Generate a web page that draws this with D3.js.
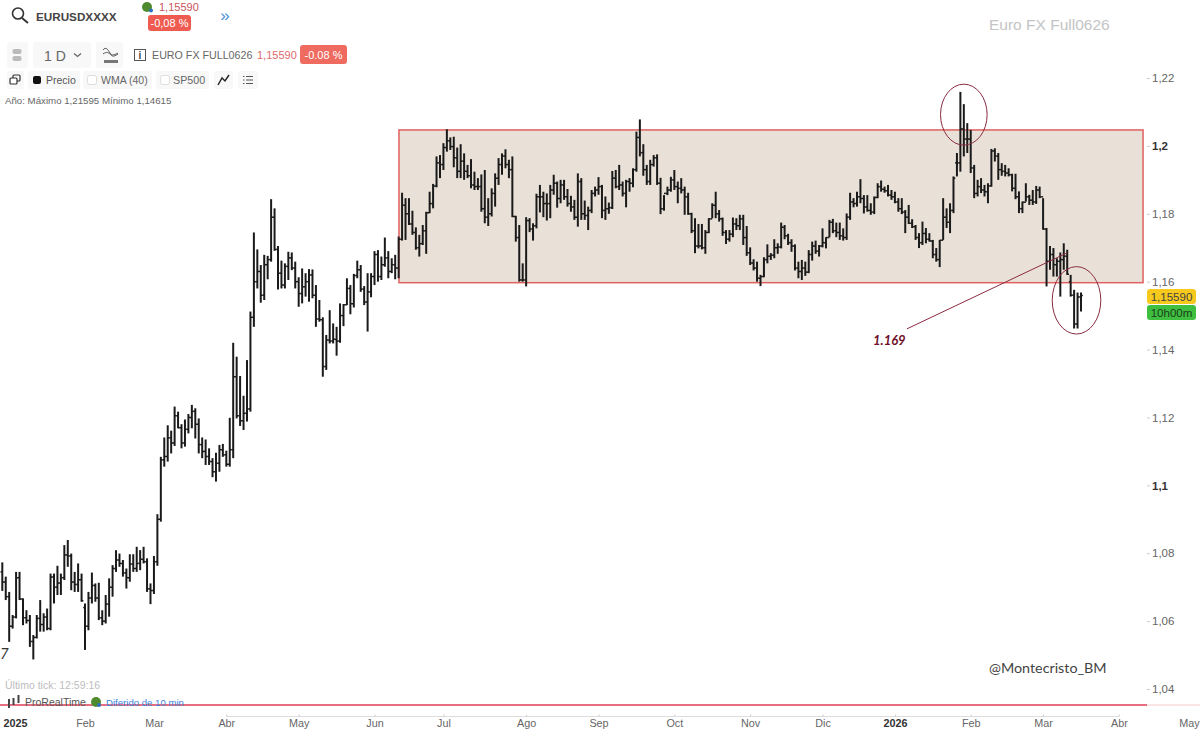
<!DOCTYPE html>
<html>
<head>
<meta charset="utf-8">
<title>EURUSD</title>
<script src="https://cdn.jsdelivr.net/npm/d3@7"></script>
<style>
body { margin: 0; background: #fff; }
svg { display: block; font-family: "Liberation Sans", Arial, sans-serif; }
</style>
</head>
<body>
<svg width="1200" height="733"></svg>
<script>
// daily bars
var highs = [
1.0773,1.0731,1.0686,1.0618,1.0745,1.0745,1.0667,1.0632,1.0618,1.0559,
1.0618,1.0662,1.0623,1.0637,1.0740,1.0740,1.0763,1.0740,1.0824,1.0839,
1.0799,1.0745,1.0770,1.0740,1.0652,1.0686,1.0743,1.0711,1.0713,1.0632,
1.0677,1.0726,1.0765,1.0809,1.0799,1.0780,1.0755,1.0797,1.0797,1.0819,
1.0809,1.0819,1.0785,1.0711,1.0792,1.0915,1.1084,1.1141,1.1177,1.1161,
1.1232,1.1217,1.1180,1.1194,1.1210,1.1237,1.1227,1.1197,1.1141,1.1135,
1.1109,1.1080,1.1096,1.1119,1.1122,1.1102,1.1199,1.1420,1.1379,1.1322,
1.1264,1.1369,1.1512,1.1745,1.1695,1.1649,1.1679,1.1676,1.1843,1.1816,
1.1705,1.1662,1.1654,1.1688,1.1686,1.1659,1.1613,1.1639,1.1625,1.1637,
1.1636,1.1590,1.1546,1.1495,1.1443,1.1516,1.1477,1.1467,1.1536,1.1534,
1.1610,1.1590,1.1623,1.1662,1.1649,1.1587,1.1625,1.1625,1.1690,1.1693,
1.1674,1.1730,1.1690,1.1669,1.1679,1.1733,1.1862,1.1846,1.1846,1.1809,
1.1760,1.1738,1.1767,1.1806,1.1865,1.1888,1.1969,1.1973,1.2008,1.2049,
1.2025,1.2027,1.1995,1.2005,1.1978,1.1944,1.1961,1.1924,1.1905,1.1916,
1.1929,1.1846,1.1875,1.1919,1.1964,1.1978,1.1990,1.1959,1.1969,1.1794,
1.1767,1.1654,1.1790,1.1787,1.1772,1.1859,1.1885,1.1865,1.1860,1.1885,
1.1915,1.1895,1.1900,1.1900,1.1873,1.1853,1.1841,1.1919,1.1905,1.1839,
1.1821,1.1870,1.1880,1.1908,1.1885,1.1851,1.1833,1.1926,1.1929,1.1944,
1.1895,1.1900,1.1905,1.1934,1.2042,1.2078,1.2005,1.1944,1.1959,1.1973,
1.1975,1.1906,1.1855,1.1880,1.1909,1.1929,1.1895,1.1905,1.1880,1.1862,
1.1803,1.1787,1.1770,1.1770,1.1752,1.1787,1.1831,1.1865,1.1811,1.1789,
1.1752,1.1752,1.1789,1.1787,1.1797,1.1797,1.1764,1.1701,1.1666,1.1659,
1.1620,1.1672,1.1710,1.1684,1.1725,1.1713,1.1774,1.1767,1.1741,1.1725,
1.1710,1.1659,1.1664,1.1659,1.1693,1.1718,1.1721,1.1708,1.1757,1.1731,
1.1782,1.1785,1.1774,1.1774,1.1757,1.1801,1.1862,1.1846,1.1865,1.1902,
1.1855,1.1855,1.1831,1.1851,1.1890,1.1898,1.1880,1.1885,1.1870,1.1865,
1.1846,1.1846,1.1811,1.1826,1.1784,1.1767,1.1743,1.1777,1.1758,1.1743,
1.1723,1.1699,1.1723,1.1846,1.1816,1.1831,1.1910,1.1979,1.2159,1.2123,
1.2067,1.2047,1.1944,1.1900,1.1905,1.1885,1.1890,1.1991,1.1993,1.1979,
1.1949,1.1944,1.1934,1.1918,1.1918,1.1866,1.1836,1.1890,1.1856,1.1870,
1.1882,1.1880,1.1846,1.1758,1.1705,1.1699,1.1669,1.1686,1.1713,1.1694,
1.1620,1.1576,1.1568,1.1568];

var lows = [
1.0689,1.0662,1.0539,1.0578,1.0608,1.0662,1.0588,1.0593,1.0524,1.0487,
1.0549,1.0569,1.0569,1.0573,1.0573,1.0652,1.0677,1.0677,1.0721,1.0760,
1.0691,1.0686,1.0686,1.0657,1.0515,1.0573,1.0652,1.0657,1.0603,1.0588,
1.0593,1.0613,1.0672,1.0745,1.0760,1.0731,1.0696,1.0716,1.0745,1.0745,
1.0750,1.0770,1.0686,1.0650,1.0680,1.0763,1.0893,1.1055,1.1070,1.1094,
1.1116,1.1168,1.1109,1.1114,1.1153,1.1168,1.1138,1.1094,1.1080,1.1060,
1.1060,1.1024,1.1011,1.1040,1.1084,1.1055,1.1055,1.1080,1.1197,1.1175,
1.1163,1.1188,1.1217,1.1467,1.1580,1.1538,1.1546,1.1607,1.1659,1.1691,
1.1577,1.1580,1.1580,1.1605,1.1634,1.1580,1.1526,1.1536,1.1556,1.1541,
1.1551,1.1467,1.1482,1.1320,1.1340,1.1418,1.1418,1.1382,1.1420,1.1469,
1.1531,1.1504,1.1524,1.1610,1.1570,1.1531,1.1453,1.1554,1.1590,1.1600,
1.1605,1.1644,1.1610,1.1625,1.1607,1.1610,1.1721,1.1723,1.1767,1.1738,
1.1694,1.1674,1.1708,1.1682,1.1802,1.1816,1.1878,1.1905,1.1929,1.1983,
1.1988,1.1937,1.1905,1.1905,1.1900,1.1905,1.1875,1.1870,1.1870,1.1806,
1.1772,1.1764,1.1792,1.1821,1.1885,1.1915,1.1934,1.1905,1.1790,1.1718,
1.1600,1.1600,1.1586,1.1746,1.1721,1.1757,1.1804,1.1790,1.1780,1.1787,
1.1856,1.1818,1.1831,1.1841,1.1821,1.1806,1.1782,1.1762,1.1782,1.1782,
1.1752,1.1802,1.1851,1.1856,1.1787,1.1782,1.1800,1.1814,1.1875,1.1870,
1.1851,1.1819,1.1865,1.1878,1.1924,1.1969,1.1912,1.1885,1.1885,1.1939,
1.1885,1.1799,1.1809,1.1855,1.1865,1.1870,1.1831,1.1860,1.1797,1.1797,
1.1743,1.1684,1.1698,1.1695,1.1682,1.1743,1.1787,1.1787,1.1777,1.1735,
1.1711,1.1718,1.1731,1.1752,1.1752,1.1708,1.1676,1.1649,1.1633,1.1600,
1.1587,1.1613,1.1654,1.1664,1.1669,1.1682,1.1698,1.1725,1.1708,1.1688,
1.1633,1.1610,1.1605,1.1617,1.1625,1.1662,1.1682,1.1674,1.1701,1.1698,
1.1731,1.1743,1.1731,1.1723,1.1721,1.1723,1.1782,1.1819,1.1821,1.1831,
1.1801,1.1806,1.1797,1.1799,1.1846,1.1865,1.1862,1.1851,1.1841,1.1831,
1.1806,1.1799,1.1743,1.1770,1.1758,1.1723,1.1699,1.1708,1.1713,1.1718,
1.1669,1.1659,1.1643,1.1723,1.1758,1.1743,1.1802,1.1910,1.1924,1.1969,
1.1979,1.1920,1.1846,1.1851,1.1861,1.1851,1.1831,1.1880,1.1954,1.1900,
1.1912,1.1910,1.1910,1.1866,1.1843,1.1802,1.1802,1.1836,1.1826,1.1826,
1.1829,1.1846,1.1753,1.1586,1.1635,1.1615,1.1615,1.1556,1.1635,1.1620,
1.1556,1.1462,1.1462,1.1512];

var closes = [
1.0715,1.0672,1.0585,1.0612,1.0728,1.0665,1.0610,1.0602,1.0540,1.0552,
1.0608,1.0590,1.0612,1.0578,1.0730,1.0700,1.0712,1.0728,1.0795,1.0792,
1.0715,1.0708,1.0722,1.0660,1.0585,1.0668,1.0705,1.0668,1.0610,1.0600,
1.0650,1.0700,1.0755,1.0780,1.0770,1.0742,1.0728,1.0768,1.0755,1.0770,
1.0782,1.0775,1.0695,1.0690,1.0775,1.0900,1.1075,1.1085,1.1140,1.1125,
1.1205,1.1170,1.1125,1.1165,1.1200,1.1218,1.1180,1.1120,1.1100,1.1085,
1.1070,1.1040,1.1065,1.1105,1.1090,1.1062,1.1105,1.1320,1.1205,1.1190,
1.1212,1.1225,1.1495,1.1600,1.1630,1.1560,1.1650,1.1665,1.1790,1.1695,
1.1625,1.1590,1.1645,1.1670,1.1640,1.1600,1.1565,1.1585,1.1600,1.1620,
1.1560,1.1490,1.1488,1.1350,1.1428,1.1425,1.1430,1.1425,1.1500,1.1532,
1.1580,1.1535,1.1618,1.1635,1.1578,1.1540,1.1570,1.1615,1.1680,1.1615,
1.1650,1.1670,1.1630,1.1650,1.1640,1.1725,1.1825,1.1800,1.1770,1.1745,
1.1700,1.1712,1.1750,1.1803,1.1830,1.1882,1.1950,1.1945,1.1995,1.2015,
1.1998,1.1965,1.1925,1.1955,1.1925,1.1912,1.1885,1.1880,1.1880,1.1815,
1.1790,1.1800,1.1860,1.1905,1.1945,1.1970,1.1945,1.1930,1.1792,1.1730,
1.1605,1.1605,1.1780,1.1755,1.1765,1.1850,1.1850,1.1830,1.1830,1.1870,
1.1890,1.1845,1.1885,1.1850,1.1830,1.1820,1.1790,1.1895,1.1800,1.1795,
1.1810,1.1860,1.1870,1.1880,1.1810,1.1815,1.1818,1.1905,1.1880,1.1885,
1.1860,1.1895,1.1890,1.1930,1.2025,1.1980,1.1930,1.1895,1.1945,1.1965,
1.1890,1.1815,1.1860,1.1870,1.1900,1.1880,1.1875,1.1870,1.1850,1.1800,
1.1750,1.1705,1.1705,1.1700,1.1745,1.1785,1.1825,1.1800,1.1785,1.1745,
1.1725,1.1740,1.1770,1.1765,1.1785,1.1730,1.1685,1.1655,1.1640,1.1610,
1.1615,1.1665,1.1675,1.1678,1.1700,1.1702,1.1760,1.1735,1.1715,1.1705,
1.1640,1.1630,1.1640,1.1628,1.1680,1.1705,1.1690,1.1705,1.1715,1.1730,
1.1775,1.1750,1.1745,1.1735,1.1730,1.1790,1.1835,1.1830,1.1850,1.1845,
1.1820,1.1810,1.1805,1.1848,1.1880,1.1872,1.1868,1.1855,1.1850,1.1835,
1.1815,1.1805,1.1790,1.1772,1.1762,1.1730,1.1715,1.1742,1.1725,1.1720,
1.1680,1.1665,1.1722,1.1790,1.1775,1.1810,1.1905,1.1950,1.2050,1.2020,
1.2020,1.1935,1.1860,1.1880,1.1870,1.1865,1.1882,1.1985,1.1970,1.1930,
1.1925,1.1920,1.1915,1.1875,1.1850,1.1815,1.1834,1.1850,1.1840,1.1835,
1.1870,1.1850,1.1755,1.1660,1.1680,1.1650,1.1660,1.1665,1.1675,1.1622,
1.1560,1.1475,1.1555,1.1559];

var opens = [
1.0745,1.0715,1.0672,1.0585,1.0612,1.0728,1.0665,1.0610,1.0602,1.0540,
1.0552,1.0608,1.0590,1.0612,1.0578,1.0730,1.0700,1.0712,1.0728,1.0795,
1.0792,1.0715,1.0708,1.0722,1.0640,1.0585,1.0668,1.0705,1.0668,1.0610,
1.0600,1.0650,1.0700,1.0755,1.0780,1.0770,1.0742,1.0728,1.0768,1.0755,
1.0770,1.0782,1.0775,1.0695,1.0690,1.0775,1.0900,1.1075,1.1085,1.1140,
1.1125,1.1205,1.1170,1.1125,1.1165,1.1200,1.1218,1.1180,1.1120,1.1100,
1.1085,1.1070,1.1040,1.1065,1.1105,1.1090,1.1062,1.1105,1.1320,1.1205,
1.1190,1.1212,1.1225,1.1495,1.1600,1.1630,1.1560,1.1650,1.1665,1.1790,
1.1695,1.1625,1.1590,1.1645,1.1670,1.1640,1.1600,1.1565,1.1585,1.1600,
1.1620,1.1560,1.1490,1.1488,1.1350,1.1428,1.1425,1.1430,1.1425,1.1500,
1.1532,1.1580,1.1535,1.1618,1.1635,1.1578,1.1540,1.1570,1.1615,1.1680,
1.1615,1.1650,1.1670,1.1630,1.1650,1.1640,1.1725,1.1825,1.1800,1.1770,
1.1745,1.1700,1.1712,1.1750,1.1803,1.1830,1.1882,1.1950,1.1945,1.1995,
1.2015,1.1998,1.1965,1.1925,1.1955,1.1925,1.1912,1.1885,1.1880,1.1880,
1.1815,1.1790,1.1800,1.1860,1.1905,1.1945,1.1970,1.1945,1.1930,1.1792,
1.1730,1.1605,1.1605,1.1780,1.1755,1.1765,1.1850,1.1850,1.1830,1.1830,
1.1870,1.1890,1.1845,1.1885,1.1850,1.1830,1.1820,1.1790,1.1895,1.1800,
1.1795,1.1810,1.1860,1.1870,1.1880,1.1810,1.1815,1.1818,1.1905,1.1880,
1.1885,1.1860,1.1895,1.1890,1.1930,1.2025,1.1980,1.1930,1.1895,1.1945,
1.1965,1.1890,1.1815,1.1860,1.1870,1.1900,1.1880,1.1875,1.1870,1.1850,
1.1800,1.1750,1.1705,1.1705,1.1700,1.1745,1.1785,1.1825,1.1800,1.1785,
1.1745,1.1725,1.1740,1.1770,1.1765,1.1785,1.1730,1.1685,1.1655,1.1640,
1.1610,1.1615,1.1665,1.1675,1.1678,1.1700,1.1702,1.1760,1.1735,1.1715,
1.1705,1.1640,1.1630,1.1640,1.1628,1.1680,1.1705,1.1690,1.1705,1.1715,
1.1730,1.1775,1.1750,1.1745,1.1735,1.1730,1.1790,1.1835,1.1830,1.1850,
1.1845,1.1820,1.1810,1.1805,1.1848,1.1880,1.1872,1.1868,1.1855,1.1850,
1.1835,1.1815,1.1805,1.1790,1.1772,1.1762,1.1730,1.1715,1.1742,1.1725,
1.1720,1.1680,1.1665,1.1722,1.1790,1.1775,1.1810,1.1950,1.1950,1.2050,
1.2020,1.2020,1.1935,1.1860,1.1880,1.1870,1.1865,1.1882,1.1985,1.1970,
1.1930,1.1925,1.1920,1.1915,1.1875,1.1850,1.1815,1.1834,1.1850,1.1840,
1.1835,1.1870,1.1850,1.1755,1.1660,1.1680,1.1650,1.1660,1.1665,1.1675,
1.1600,1.1560,1.1475,1.1555];

var priceTicks = [1.04,1.06,1.08,1.1,1.12,1.14,1.16,1.18,1.2,1.22];
var boldPrices = [1.1,1.2];

var monthLabels = ["2025","Feb","Mar","Abr","May","Jun","Jul","Ago","Sep","Oct","Nov","Dic","2026","Feb","Mar","Abr","May"];
var monthBars = [3.7,24,44,65,86,108,128,152,173,195,217,238,259,281,302,324,344.3];

// zone and drawings on the chart, in bar number / price
var zoneBars = [115.1,331], zonePrices = [1.2047,1.1597];
var circleBars = [279,311.7], circlePrices = [1.2092,1.1545];
var trendBars = [262.5,309], trendPrices = [1.1461,1.1685];
var floorPrice = 1.0353;

var svg = d3.select("svg"),
    width = +svg.attr("width"),
    height = +svg.attr("height");

var x = d3.scaleLinear().domain([0,313]).range([2.3,1081]);
var y = d3.scaleLinear().domain([1.04,1.22]).range([689,78]);

var red = "#e0605f", wine = "#8a2b42";

// zone
svg.append("rect")
    .attr("x", x(zoneBars[0])).attr("y", y(zonePrices[0]))
    .attr("width", x(zoneBars[1]) - x(zoneBars[0]))
    .attr("height", y(zonePrices[1]) - y(zonePrices[0]))
    .attr("fill", "#e9e1d8")
    .attr("stroke", red).attr("stroke-width", 1.5);

// floor line, fades out under the price scale
svg.append("line").attr("x1", 0).attr("x2", 1147).attr("y1", y(floorPrice)).attr("y2", y(floorPrice))
    .attr("stroke", "#e56f80").attr("stroke-width", 2);
svg.append("line").attr("x1", 1147).attr("x2", width).attr("y1", y(floorPrice)).attr("y2", y(floorPrice))
    .attr("stroke", "#fbe4e4").attr("stroke-width", 2);

// ohlc bars
var bars = svg.append("g").attr("stroke", "#1a1a1a").selectAll("g")
    .data(highs)
    .enter().append("g");
bars.append("line")
    .attr("x1", function(d,i){ return x(i); }).attr("x2", function(d,i){ return x(i); })
    .attr("y1", function(d){ return y(d); })
    .attr("y2", function(d,i){ return y(lows[i]); })
    .attr("stroke-width", 2);
bars.append("line")
    .attr("x1", function(d,i){ return x(i) - 1.8; }).attr("x2", function(d,i){ return x(i); })
    .attr("y1", function(d,i){ return y(opens[i]); }).attr("y2", function(d,i){ return y(opens[i]); })
    .attr("stroke-width", 1.5);
bars.append("line")
    .attr("x1", function(d,i){ return x(i); }).attr("x2", function(d,i){ return x(i) + 1.8; })
    .attr("y1", function(d,i){ return y(closes[i]); }).attr("y2", function(d,i){ return y(closes[i]); })
    .attr("stroke-width", 1.5);

// circles and trend line
svg.selectAll("ellipse").data(circleBars).enter().append("ellipse")
    .attr("cx", function(d){ return x(d); })
    .attr("cy", function(d,i){ return y(circlePrices[i]); })
    .attr("rx", function(d,i){ return i ? 24.3 : 23.3; })
    .attr("ry", function(d,i){ return i ? 33.7 : 30.5; })
    .attr("fill", "none").attr("stroke", wine).attr("stroke-width", 1);
svg.append("line")
    .attr("x1", x(trendBars[0])).attr("y1", y(trendPrices[0]))
    .attr("x2", x(trendBars[1])).attr("y2", y(trendPrices[1]))
    .attr("stroke", wine).attr("stroke-width", 1);
svg.append("text").attr("x", 873).attr("y", 345).text("1.169")
    .attr("font-family", "Lato").attr("font-size", 13).attr("font-weight", "bold").attr("font-style", "italic")
    .attr("fill", "#6f0f27");

// price scale
var yAxis = svg.append("g").attr("transform", "translate(1151,0)")
    .call(d3.axisRight(y).tickValues(priceTicks).tickSize(0).tickPadding(1)
        .tickFormat(function(d){ return String(d).replace(".", ","); }));
yAxis.select(".domain").remove();
yAxis.selectAll("text")
    .attr("font-family", "Liberation Sans").attr("font-size", 11.5)
    .attr("fill", function(d){ return boldPrices.indexOf(d) >= 0 ? "#333" : "#666"; })
    .attr("font-weight", function(d){ return boldPrices.indexOf(d) >= 0 ? "bold" : "normal"; });
yAxis.selectAll("line").attr("x1", -4).attr("x2", -1).attr("stroke", "#ccc");

// time scale
svg.append("line").attr("x1", x(monthBars[3])).attr("x2", x(monthBars[15])).attr("y1", 716.5).attr("y2", 716.5)
    .attr("stroke", "#ddd");
var xAxis = svg.append("g").attr("transform", "translate(0,716.5)")
    .call(d3.axisBottom(x).tickValues(monthBars).tickSize(-2).tickPadding(2)
        .tickFormat(function(d,i){ return monthLabels[i]; }));
xAxis.select(".domain").remove();
xAxis.selectAll("text")
    .attr("font-family", "Liberation Sans").attr("font-size", 10.8).attr("dy", "0.75em")
    .attr("fill", function(d,i){ return monthLabels[i].length == 4 ? "#333" : "#666"; })
    .attr("font-weight", function(d,i){ return monthLabels[i].length == 4 ? "bold" : "normal"; });
xAxis.selectAll("line").attr("stroke", function(d,i){ return i >= 3 && i <= 15 ? "#ccc" : "none"; });

// labels on the right
function pill(px, py, w, h, r, fill) {
    return svg.append("rect").attr("x", px).attr("y", py).attr("width", w).attr("height", h).attr("rx", r).attr("fill", fill);
}
function label(px, py, s, size, color, weight, anchor) {
    return svg.append("text").attr("x", px).attr("y", py).text(s)
        .attr("font-size", size).attr("fill", color)
        .attr("font-weight", weight || "normal").attr("text-anchor", anchor || "start");
}
pill(1147, 289, 49, 15, 3, "#f6c91c");
label(1171.5, 300.5, "1,15590", 11.5, "#444", "normal", "middle");
pill(1147, 305, 49, 15, 3, "#3fbf3f");
label(1171.5, 316.5, "10h00m", 11.5, "#1d3d1d", "normal", "middle");

// header
svg.append("circle").attr("cx", 18).attr("cy", 13.5).attr("r", 5.5).attr("fill", "none").attr("stroke", "#333").attr("stroke-width", 1.6);
svg.append("line").attr("x1", 22).attr("y1", 18).attr("x2", 28).attr("y2", 23).attr("stroke", "#333").attr("stroke-width", 2);
label(36, 20.5, "EURUSDXXXX", 11.7, "#444", "bold");
svg.append("circle").attr("cx", 147).attr("cy", 7).attr("r", 5).attr("fill", "#4f8a2e");
svg.append("circle").attr("cx", 151).attr("cy", 10.5).attr("r", 2).attr("fill", "#2a6fc0");
label(159, 10.5, "1,15590", 11, "#c9545a");
pill(148, 15, 43, 16, 3, "#ef5b50");
label(169.5, 27, "-0,08 %", 11, "#fff", "normal", "middle");
label(225, 21, "»", 17, "#4a90d9", "normal", "middle");

// toolbar, first row
pill(7, 42, 21, 26, 3, "#f8f8f8");
pill(12.5, 49, 9, 5, 2, "#bbb");
pill(12.5, 56, 9, 5, 2, "#bbb");
pill(33, 42, 58, 26, 3, "#f8f8f8");
label(44, 61, "1 D", 14, "#666");
svg.append("path").attr("d", "M74 53.5l3.5 3 3.5-3").attr("fill", "none").attr("stroke", "#666").attr("stroke-width", 1.3);
pill(96, 42, 27, 26, 3, "#f8f8f8");
svg.append("path").attr("d", "M103 50c3-4 5 0 7 3s4 2 8 0").attr("fill", "none").attr("stroke", "#555");
svg.append("path").attr("d", "M103 54c4-3 6-1 8 1s4 1 7-1").attr("fill", "none").attr("stroke", "#555");
svg.append("rect").attr("x", 104).attr("y", 60).attr("width", 14).attr("height", 3).attr("fill", "#777");
svg.append("rect").attr("x", 134.5).attr("y", 49.5).attr("width", 11).attr("height", 11).attr("fill", "none").attr("stroke", "#555");
label(140, 59, "i", 10, "#444", "bold", "middle");
label(152, 58.5, "EURO FX FULL0626", 10.7, "#666");
label(257, 58.5, "1,15590", 11, "#e06a6a");
pill(300, 45, 47, 19, 3, "#ef6a5f");
label(323.5, 58.5, "-0.08 %", 11, "#fff", "normal", "middle");

// toolbar, second row
pill(7, 71, 17, 18, 3, "#f8f8f8");
svg.append("rect").attr("x", 13).attr("y", 75).attr("width", 7).attr("height", 6).attr("rx", 1).attr("fill", "none").attr("stroke", "#333").attr("stroke-width", 1.2);
svg.append("rect").attr("x", 10).attr("y", 78).attr("width", 7).attr("height", 6).attr("rx", 1).attr("fill", "#fff").attr("stroke", "#333").attr("stroke-width", 1.2);
pill(28, 71, 52, 18, 3, "#f8f8f8");
pill(33, 76, 8, 8, 2, "#111");
label(46, 84, "Precio", 10.5, "#555");
pill(83, 71, 69, 18, 3, "#f8f8f8");
svg.append("rect").attr("x", 87.5).attr("y", 75.5).attr("width", 9).attr("height", 9).attr("rx", 2).attr("fill", "#fff").attr("stroke", "#ddd");
label(101, 84, "WMA (40)", 10.5, "#666");
pill(156, 71, 53, 18, 3, "#f8f8f8");
svg.append("rect").attr("x", 160.5).attr("y", 75.5).attr("width", 9).attr("height", 9).attr("rx", 2).attr("fill", "#fff").attr("stroke", "#ddd");
label(173, 84, "SP500", 10.7, "#666");
pill(214, 71, 19, 18, 3, "#f8f8f8");
svg.append("path").attr("d", "M218 85l4-7 3 3 4-6").attr("fill", "none").attr("stroke", "#222").attr("stroke-width", 1.4);
pill(238, 71, 20, 18, 3, "#f8f8f8");
svg.append("path").attr("d", "M246 76.5h7M246 80h7M246 83.5h7").attr("stroke", "#555").attr("fill", "none");
svg.append("path").attr("d", "M243 76.5h1.5M243 80h1.5M243 83.5h1.5").attr("stroke", "#555").attr("fill", "none");
label(5, 104, "Año: Máximo 1,21595 Mínimo 1,14615", 9.7, "#666");

// watermarks and footer
label(989, 30, "Euro FX Full0626", 15.5, "#c4c4c4");
label(989, 673, "@Montecristo_BM", 14.3, "#444").attr("font-family", "Lato");
label(0, 659, "7", 15, "#333").attr("font-style", "italic").attr("font-family", "Lato");
label(5, 689, "Último tick: 12:59:16", 10.5, "#bdbdbd");
svg.append("path").attr("d", "M9 699v9M13.5 698v7M18.5 695v8").attr("stroke", "#444").attr("fill", "none").attr("stroke-width", 2);
label(25, 706, "ProRealTime", 10.5, "#555");
svg.append("circle").attr("cx", 96).attr("cy", 702).attr("r", 5).attr("fill", "#4f8a2e");
svg.append("circle").attr("cx", 99).attr("cy", 705).attr("r", 2).attr("fill", "#2a6fc0");
label(106, 706, "Diferido de 10 min", 9.6, "#3b82d8");
</script>
</body>
</html>
